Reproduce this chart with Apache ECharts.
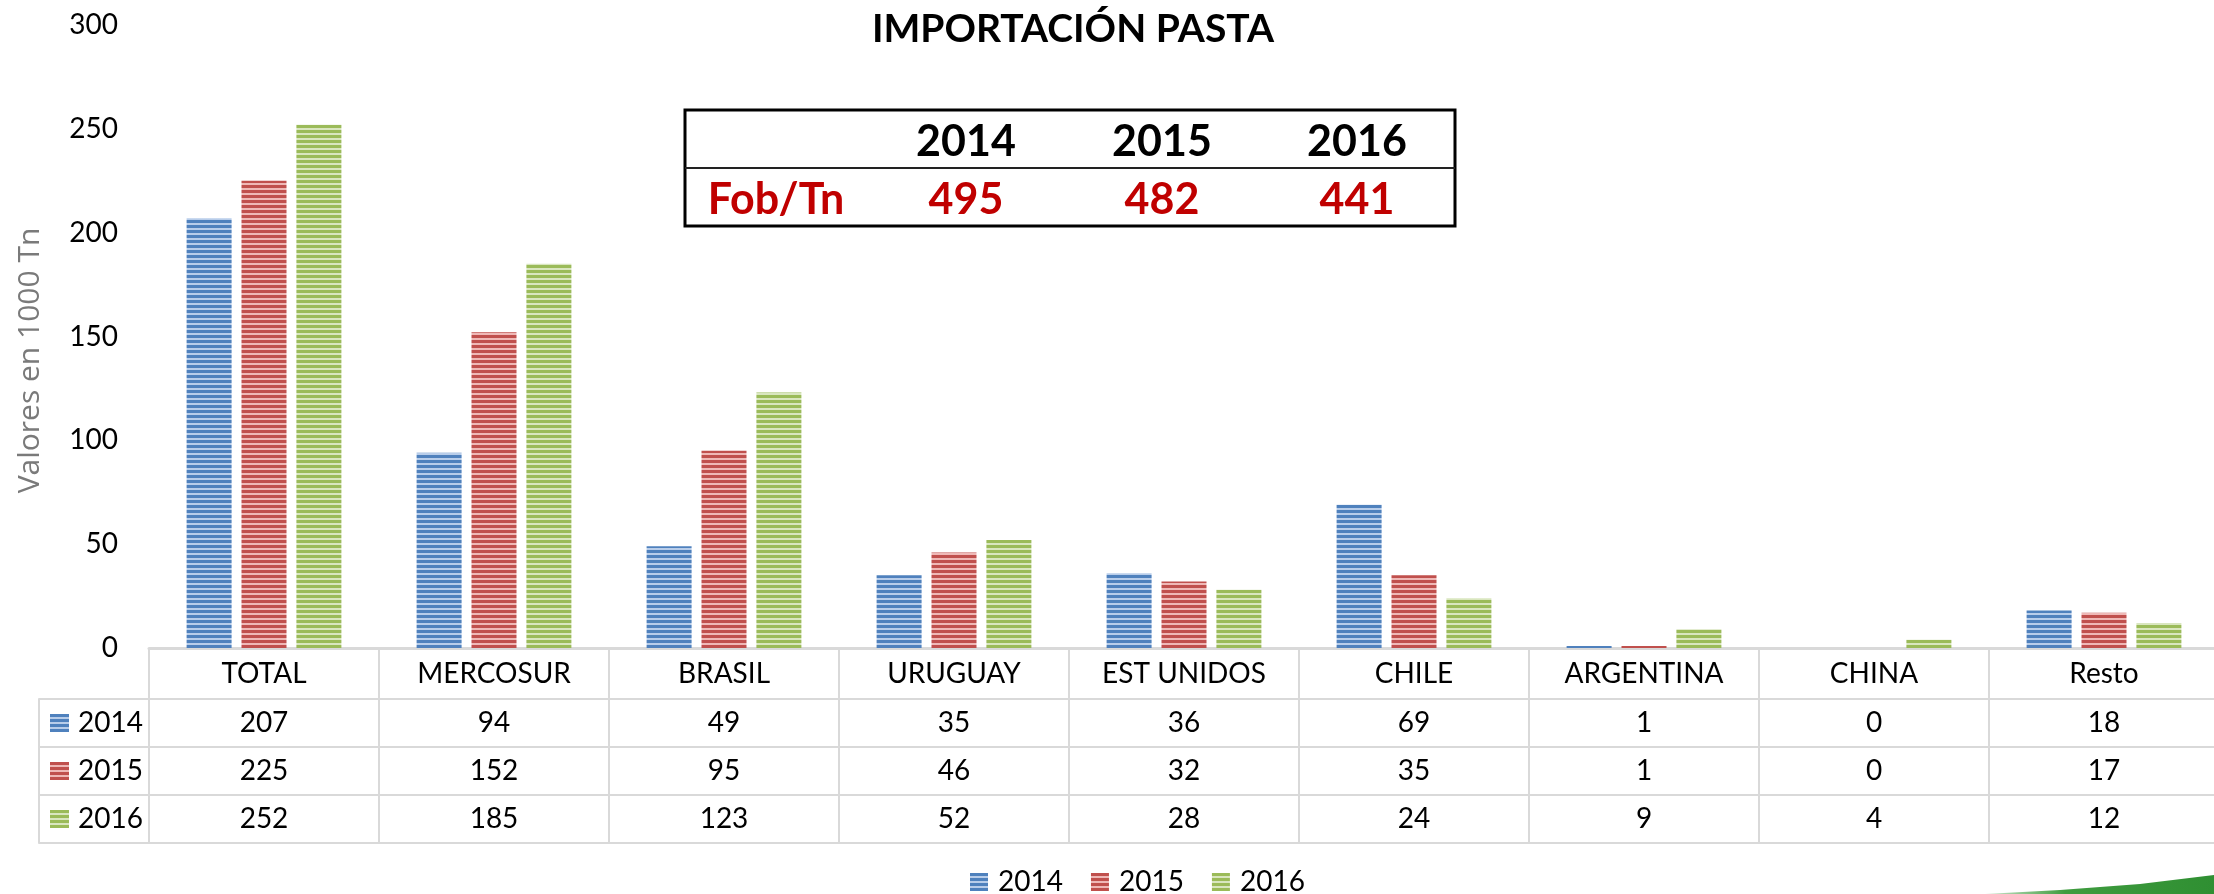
<!DOCTYPE html>
<html>
<head>
<meta charset="utf-8">
<script src="https://cdn.jsdelivr.net/npm/echarts@6/dist/echarts.min.js"></script>
<style>
  html, body { margin: 0; padding: 0; background: #fff; }
  #chart { width: 2214px; height: 894px; }
</style>
</head>
<body>
<div id="chart"></div>
<script>
const categories = ['TOTAL', 'MERCOSUR', 'BRASIL', 'URUGUAY', 'EST UNIDOS', 'CHILE', 'ARGENTINA', 'CHINA', 'Resto'];
const years = ['2014', '2015', '2016'];
const values2014 = [207, 94, 49, 35, 36, 69, 1, 0, 18];
const values2015 = [225, 152, 95, 46, 32, 35, 1, 0, 17];
const values2016 = [252, 185, 123, 52, 28, 24, 9, 4, 12];
const yTicks = [0, 50, 100, 150, 200, 250, 300];
const fobValues = [495, 482, 441];

const FONT = 'Lato, "Open Sans", sans-serif';
const baseColors = ['#4f81bd', '#c0504d', '#9bbb59'];
const lightColors = ['#b8cdea', '#efb8b6', '#d9e6bf'];
const seriesValues = [values2014, values2015, values2016];

// striped fill like the office chart texture
function stripes(base, light) {
  const c = document.createElement('canvas');
  c.width = 4; c.height = 5;
  const ctx = c.getContext('2d');
  ctx.fillStyle = base;
  ctx.fillRect(0, 0, 4, 5);
  ctx.fillStyle = light;
  ctx.fillRect(0, 3, 4, 2);
  return c;
}
function swatch(base, light) {
  const c = document.createElement('canvas');
  c.width = 19; c.height = 18;
  const ctx = c.getContext('2d');
  ctx.fillStyle = base;
  ctx.fillRect(0, 0, 19, 18);
  ctx.fillStyle = light;
  for (let y = 3; y < 18; y += 5) ctx.fillRect(0, y, 19, 2);
  return c;
}
const patterns = baseColors.map((c, i) => stripes(c, lightColors[i]));
const swatches = baseColors.map((c, i) => swatch(c, lightColors[i]));

const chart = echarts.init(document.getElementById('chart'));

const rowRich = { t: { fontFamily: FONT, fontSize: 28, color: '#000', padding: [0, 0, 0, 9] } };
swatches.forEach((s, i) => {
  rowRich['s' + i] = { width: 19, height: 18, backgroundColor: { image: s } };
});

const fobLeft = 685, fobTop = 110, fobW = 770, fobH = 116;
const fobCols = [966, 1162, 1357];

const option = {
  animation: false,
  textStyle: { fontFamily: FONT },
  title: {
    text: 'IMPORTACIÓN PASTA',
    left: 1068,
    top: 5,
    textAlign: 'center',
    textStyle: { fontFamily: FONT, fontSize: 39, fontWeight: 'bold', color: '#000' }
  },
  legend: {
    data: years,
    left: 965,
    top: 863,
    icon: 'rect',
    itemWidth: 18,
    itemHeight: 18,
    itemGap: 28,
    textStyle: { fontFamily: FONT, fontSize: 28, color: '#000', lineHeight: 28, padding: [0, 0, 0, 5] }
  },
  grid: [
    { left: 149, right: -5, top: 25, bottom: 246, outerBoundsMode: 'none' },
    { left: 39, right: -5, top: 699, height: 144, outerBoundsMode: 'none' }
  ],
  xAxis: [
    {
      type: 'category',
      gridIndex: 0,
      data: categories,
      axisLine: { lineStyle: { color: '#d9d9d9', width: 3 } },
      axisTick: { show: true, interval: 0, length: 195, lineStyle: { color: '#d9d9d9', width: 2 } },
      axisLabel: {
        interval: 0,
        margin: 1,
        formatter: (v, i) => `{h|${v}}\n{v|${values2014[i]}}\n{v|${values2015[i]}}\n{v|${values2016[i]}}`,
        rich: {
          h: { fontFamily: FONT, fontSize: 28, color: '#000', lineHeight: 50 },
          v: { fontFamily: FONT, fontSize: 28, color: '#000', lineHeight: 48 }
        }
      }
    },
    { type: 'value', gridIndex: 1, show: false }
  ],
  yAxis: [
    {
      type: 'value',
      gridIndex: 0,
      min: yTicks[0],
      max: yTicks[yTicks.length - 1],
      interval: 50,
      name: 'Valores en 1000 Tn',
      nameLocation: 'middle',
      nameGap: 104,
      nameTextStyle: { fontFamily: '"Open Sans", sans-serif', fontSize: 30, color: '#7a7a7a', padding: [0, 48, 0, 0] },
      axisLine: { show: false },
      axisTick: { show: false },
      splitLine: { show: false },
      axisLabel: { fontFamily: FONT, fontSize: 28, color: '#000', margin: 31 }
    },
    {
      type: 'category',
      gridIndex: 1,
      data: years,
      inverse: true,
      axisLine: { show: true, lineStyle: { color: '#d9d9d9', width: 2 } },
      axisTick: { show: false },
      splitLine: { show: true, interval: 0, lineStyle: { color: '#d9d9d9', width: 2 } },
      axisLabel: {
        inside: true,
        margin: 11,
        interval: 0,
        formatter: (v, i) => `{s${i}|}{t|${v}}`,
        rich: rowRich
      }
    }
  ],
  series: years.map((y, i) => ({
    name: y,
    type: 'bar',
    xAxisIndex: 0,
    yAxisIndex: 0,
    barWidth: 45,
    barGap: '22%',
    data: seriesValues[i],
    itemStyle: {
      color: { image: patterns[i], repeat: 'repeat' }
    }
  })),
  graphic: [
    {
      type: 'rect',
      shape: { x: fobLeft, y: fobTop, width: fobW, height: fobH },
      style: { fill: '#fff', stroke: '#000', lineWidth: 3 }
    },
    {
      type: 'line',
      shape: { x1: fobLeft, y1: 168, x2: fobLeft + fobW, y2: 168 },
      style: { stroke: '#222', lineWidth: 2 }
    },
    {
      type: 'text',
      x: 776, y: 200,
      style: { text: 'Fob/Tn', fill: '#c00000', font: 'bold 43px ' + FONT, textAlign: 'center', textVerticalAlign: 'middle' }
    },
    ...years.map((y, i) => ({
      type: 'text',
      x: fobCols[i], y: 142,
      style: { text: y, fill: '#000', font: 'bold 43px ' + FONT, textAlign: 'center', textVerticalAlign: 'middle' }
    })),
    ...fobValues.map((v, i) => ({
      type: 'text',
      x: fobCols[i], y: 200,
      style: { text: String(v), fill: '#c00000', font: 'bold 43px ' + FONT, textAlign: 'center', textVerticalAlign: 'middle' }
    })),
    {
      type: 'polygon',
      shape: { points: [[1985, 894], [2060, 890], [2140, 884], [2214, 875], [2214, 894]] },
      style: {
        fill: new echarts.graphic.LinearGradient(0, 0, 1, 0, [
          { offset: 0, color: '#cfe6cf' },
          { offset: 0.35, color: '#3f9c3f' },
          { offset: 1, color: '#2f8f32' }
        ])
      }
    }
  ]
};

chart.setOption(option);
window.addEventListener('resize', function () {
  chart.resize();
});
</script>
</body>
</html>
